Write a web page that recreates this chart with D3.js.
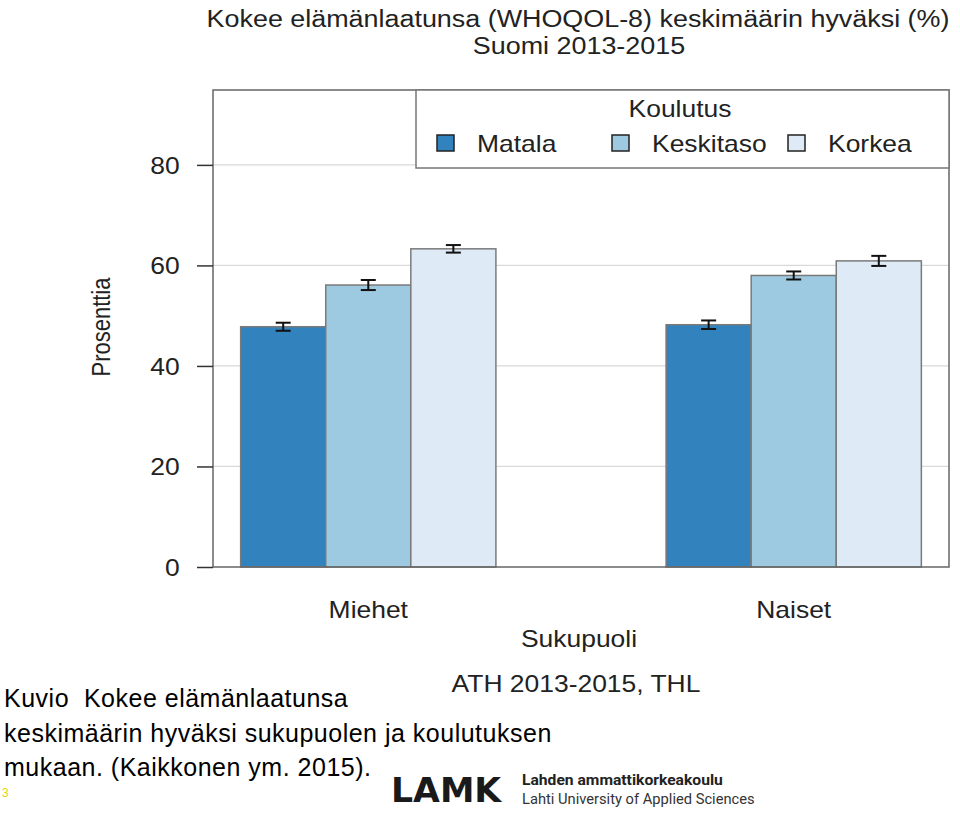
<!DOCTYPE html>
<html><head><meta charset="utf-8">
<script src="https://cdn.jsdelivr.net/npm/d3@7"></script>
<style>body{margin:0;background:#fff}svg{display:block}</style>
</head><body>
<svg id="c" width="960" height="816"></svg>
<script>
const groups = ["Miehet", "Naiset"];
const levels = ["Matala", "Keskitaso", "Korkea"];
const colors = ["#3182bd", "#9ecae1", "#deebf7"];
const valuesMatala = [47.8, 48.2];
const valuesKeskitaso = [56.1, 58.0];
const valuesKorkea = [63.3, 60.9];
const errMatala = [0.8, 0.85];
const errKeskitaso = [1.0, 0.8];
const errKorkea = [0.75, 1.0];
const yTicks = [0, 20, 40, 60, 80];

const series = [valuesMatala, valuesKeskitaso, valuesKorkea];
const errs = [errMatala, errKeskitaso, errKorkea];
const data = [];
groups.forEach((g, gi) => levels.forEach((l, li) => data.push({g, l, li, v: series[li][gi], e: errs[li][gi]})));

const svg = d3.select("#c");
const L = 213, R = 949, T = 90, B = 567;
const y = d3.scaleLinear().domain([0, 94.9]).range([B, T]);
const x = d3.scaleBand().domain(groups).range([L, R]).paddingInner(0.4).paddingOuter(0.065);
const xs = d3.scaleBand().domain(levels).range([0, x.bandwidth()]);
const font = "Liberation Sans, Arial, sans-serif";
const txt = "#222";
const FS = 23, SX = 1.15;

function label(parent, tx, ty, s, anchor, opts = {}) {
  return parent.append("text")
    .attr("transform", `translate(${tx},${ty}) scale(${opts.sx || SX},1)`)
    .attr("text-anchor", anchor || "start")
    .attr("font-family", font).attr("font-size", opts.fs || FS).attr("fill", txt).text(s);
}

// grid
svg.append("g").selectAll("line").data(yTicks.filter(d => d > 0)).join("line")
  .attr("x1", L).attr("x2", R).attr("y1", d => y(d)).attr("y2", d => y(d))
  .attr("stroke", "#d9d9d9").attr("stroke-width", 1.3);

// bars
svg.append("g").selectAll("rect").data(data).join("rect")
  .attr("x", d => x(d.g) + xs(d.l)).attr("width", xs.bandwidth())
  .attr("y", d => y(d.v)).attr("height", d => y(0) - y(d.v))
  .attr("fill", d => colors[d.li]).attr("stroke", "#7a7a7a").attr("stroke-width", 1.5);

// error bars
const eb = svg.append("g").attr("stroke", "#111").attr("stroke-width", 2);
data.forEach(d => {
  const cx = x(d.g) + xs(d.l) + xs.bandwidth() / 2;
  eb.append("line").attr("x1", cx).attr("x2", cx).attr("y1", y(d.v - d.e)).attr("y2", y(d.v + d.e));
  [d.v - d.e, d.v + d.e].forEach(v => eb.append("line").attr("x1", cx - 7.5).attr("x2", cx + 7.5).attr("y1", y(v)).attr("y2", y(v)));
});

// frame
svg.append("rect").attr("x", L).attr("y", T).attr("width", R - L).attr("height", B - T)
  .attr("fill", "none").attr("stroke", "#666").attr("stroke-width", 1.5);

// y axis
const ya = svg.append("g").attr("transform", `translate(${L},0)`)
  .call(d3.axisLeft(y).tickValues(yTicks).tickSize(16).tickPadding(13));
ya.select(".domain").remove();
ya.selectAll(".tick line").attr("stroke", "#333").attr("stroke-width", 1.5);
ya.selectAll(".tick text").attr("font-family", font).attr("font-size", FS).attr("fill", txt)
  .attr("transform", `scale(${SX},1)`).attr("dy", "0.36em");

// x labels
groups.forEach(g => label(svg, x(g) + x.bandwidth() / 2, 618, g, "middle"));
label(svg, 579, 647, "Sukupuoli", "middle");
svg.append("text").attr("transform", "translate(110,327) rotate(-90) scale(1,1.15)").attr("text-anchor", "middle")
  .attr("font-family", font).attr("font-size", 22).attr("fill", txt).text("Prosenttia");

// title
label(svg, 578, 27, "Kokee elämänlaatunsa (WHOQOL-8) keskimäärin hyväksi (%)", "middle", {sx: 1.17});
label(svg, 579, 54, "Suomi 2013-2015", "middle", {sx: 1.17});

// legend
const lg = svg.append("g");
lg.append("rect").attr("x", 416).attr("y", T).attr("width", R - 416).attr("height", 78)
  .attr("fill", "#fff").attr("stroke", "#777").attr("stroke-width", 1.5);
label(lg, 680, 117, "Koulutus", "middle");
const legX = [437, 612, 788];
levels.forEach((l, i) => {
  lg.append("rect").attr("x", legX[i]).attr("y", 135).attr("width", 17).attr("height", 16)
    .attr("fill", colors[i]).attr("stroke", "#222").attr("stroke-width", 1.5);
  label(lg, legX[i] + 40, 152, l, "start");
});

label(svg, 576, 692, "ATH 2013-2015, THL", "middle");

// caption
const cap = ["Kuvio  Kokee elämänlaatunsa", "keskimäärin hyväksi sukupuolen ja koulutuksen", "mukaan. (Kaikkonen ym. 2015)."];
svg.append("g").selectAll("text").data(cap).join("text")
  .attr("x", 4).attr("y", (d, i) => 707 + i * 34.5)
  .attr("font-family", "Liberation Sans Narrow, Liberation Sans, sans-serif").attr("font-size", 25)
  .attr("fill", "#000").attr("letter-spacing", 0.5).style("white-space", "pre").text(d => d);
svg.append("text").attr("x", 2).attr("y", 797).attr("font-family", font).attr("font-size", 12)
  .attr("fill", "#e6d400").text("3");

// logo
svg.append("text").attr("transform", "translate(391,802) scale(1.05,1)").attr("font-family", "DejaVu Sans, sans-serif")
  .attr("font-weight", "bold").attr("font-size", 33).attr("fill", "#1a1a1a").text("LAMK");
svg.append("text").attr("transform", "translate(522,785) scale(1.01,1)").attr("font-family", "Roboto, sans-serif")
  .attr("font-weight", "bold").attr("font-size", 15.5).attr("fill", "#222").text("Lahden ammattikorkeakoulu");
svg.append("text").attr("transform", "translate(522,804) scale(0.98,1)").attr("font-family", "Roboto, sans-serif")
  .attr("font-size", 15).attr("fill", "#333").text("Lahti University of Applied Sciences");
</script>
</body></html>
